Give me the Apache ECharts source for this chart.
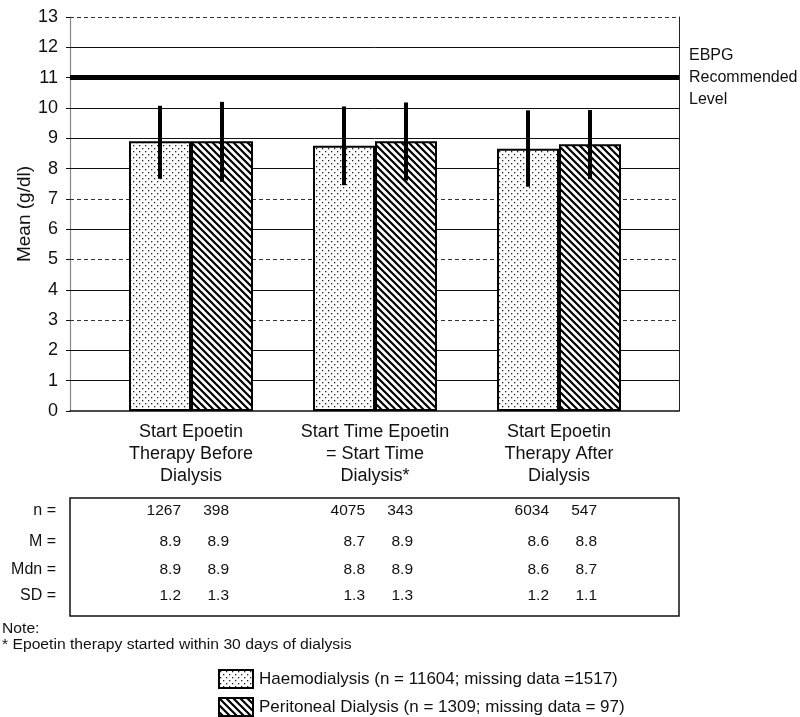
<!DOCTYPE html>
<html>
<head>
<meta charset="utf-8">
<script src="https://cdn.jsdelivr.net/npm/echarts@6/dist/echarts.min.js"></script>
<style>html,body{margin:0;padding:0;background:#fff;}#c{width:800px;height:717px;}</style>
</head>
<body>
<div id="c"></div>
<script>
// ---- data ----
const categories = ['Start Epoetin\nTherapy Before\nDialysis', 'Start Time Epoetin\n= Start Time\nDialysis*', 'Start Epoetin\nTherapy After\nDialysis'];
const hdName = 'Haemodialysis (n = 11604; missing data =1517)';
const pdName = 'Peritoneal Dialysis (n = 1309; missing data = 97)';
const hdMean = [8.9, 8.75, 8.65];
const pdMean = [8.9, 8.9, 8.8];
const hdLow = [7.66, 7.45, 7.4];
const hdHigh = [10.07, 10.05, 9.92];
const pdLow = [7.56, 7.6, 7.65];
const pdHigh = [10.2, 10.18, 9.93];
const yTicksMin = 0, yTicksMax = 13, yTickStep = 1;
const solidGrid = [1, 2, 4, 6, 8, 9, 10, 12];
const dashedGrid = [3, 5, 7, 13];
const recommendedLevel = 11;
const recommendedLabel = 'EBPG\nRecommended\nLevel';
const rowLabels = ['n =', 'M =', 'Mdn =', 'SD ='];
const nHD = ['1267', '4075', '6034'];
const nPD = ['398', '343', '547'];
const mHD = ['8.9', '8.7', '8.6'];
const mPD = ['8.9', '8.9', '8.8'];
const mdnHD = ['8.9', '8.8', '8.6'];
const mdnPD = ['8.9', '8.9', '8.7'];
const sdHD = ['1.2', '1.3', '1.2'];
const sdPD = ['1.3', '1.3', '1.1'];
const noteLines = ['Note:', '* Epoetin therapy started within 30 days of dialysis'];

// ---- styles ----
const FONT = '"Liberation Sans", Arial, Helvetica, sans-serif';
const TXT = '#111';
const BAR_W = 62;

function dotPattern() {
  const c = document.createElement('canvas');
  c.width = 6; c.height = 6;
  const g = c.getContext('2d');
  g.fillStyle = '#fff'; g.fillRect(0, 0, 6, 6);
  g.fillStyle = '#222';
  g.fillRect(1, 1, 1.3, 1.3);
  g.fillRect(4, 4, 1.3, 1.3);
  return c;
}
function hatchPattern() {
  const s = 7;
  const c = document.createElement('canvas');
  c.width = s; c.height = s;
  const g = c.getContext('2d');
  g.fillStyle = '#fff'; g.fillRect(0, 0, s, s);
  g.strokeStyle = '#000'; g.lineWidth = 2.2;
  g.beginPath();
  for (let k = -1; k <= 1; k++) {
    g.moveTo(k * s - 1, -1); g.lineTo(k * s + s + 1, s + 1);
  }
  g.stroke();
  return c;
}
const hdFill = { image: dotPattern(), repeat: 'repeat' };
const pdFill = { image: hatchPattern(), repeat: 'repeat' };

const chart = echarts.init(document.getElementById('c'), null, { renderer: 'canvas' });

function errRender(off) {
  return function (params, api) {
    const x = api.coord([api.value(0), 0])[0] + off;
    const top = api.coord([api.value(0), api.value(2)])[1];
    const bot = api.coord([api.value(0), api.value(1)])[1];
    return { type: 'line', shape: { x1: x, y1: top, x2: x, y2: bot }, style: { stroke: '#000', lineWidth: 4 } };
  };
}

const gridMarks = [];
solidGrid.forEach(v => gridMarks.push({ yAxis: v, lineStyle: { type: 'solid', color: '#111', width: 1 } }));
dashedGrid.forEach(v => gridMarks.push({ yAxis: v, lineStyle: { type: [4, 3], color: '#333', width: 1 } }));
gridMarks.push({
  yAxis: recommendedLevel,
  lineStyle: { type: 'solid', color: '#000', width: 5 },
  label: {
    show: true, position: 'end', distance: 10, formatter: recommendedLabel,
    fontFamily: FONT, fontSize: 16, color: TXT, lineHeight: 22, align: 'left'
  }
});

const option = {
  animation: false,
  backgroundColor: '#fff',
  textStyle: { fontFamily: FONT },
  grid: [
    { left: 70, right: 121, top: 17, bottom: 306 },
    { left: 99, right: 149, top: 17, bottom: 306 }
  ],
  xAxis: [
    { type: 'value', gridIndex: 0, min: 0, max: 1, axisLine: { show: true, lineStyle: { color: '#111', width: 1.5 } }, axisTick: { show: false }, axisLabel: { show: false }, splitLine: { show: false } },
    { type: 'category', gridIndex: 1, data: categories, axisLine: { show: false }, axisTick: { show: false },
      axisLabel: { margin: 10, fontFamily: FONT, fontSize: 18, color: TXT, lineHeight: 22, interval: 0 } }
  ],
  yAxis: [
    { type: 'value', gridIndex: 0, min: yTicksMin, max: yTicksMax, interval: yTickStep,
      name: 'Mean (g/dl)', nameLocation: 'middle', nameGap: 36, nameRotate: 90, nameMoveOverlap: false,
      nameTextStyle: { fontFamily: FONT, fontSize: 19, color: TXT },
      axisLine: { show: true, lineStyle: { color: '#888', width: 1.2 } },
      axisTick: { show: true, length: 4, lineStyle: { color: '#111' } },
      axisLabel: { margin: 12, fontFamily: FONT, fontSize: 18, color: TXT },
      splitLine: { show: false } },
    { type: 'value', gridIndex: 0, position: 'right', min: yTicksMin, max: yTicksMax, interval: yTickStep,
      axisLine: { show: true, lineStyle: { color: '#222', width: 1 } }, axisTick: { show: false }, axisLabel: { show: false }, splitLine: { show: false } },
    { type: 'value', gridIndex: 1, min: yTicksMin, max: yTicksMax, interval: yTickStep, show: false, splitLine: { show: false } }
  ],
  legend: {
    orient: 'vertical', left: 218, top: 669, itemWidth: 34, itemHeight: 18, itemGap: 8, padding: 0,
    icon: 'rect',
    data: [hdName, pdName],
    textStyle: { fontFamily: FONT, fontSize: 17, color: TXT, padding: [0, 0, 0, 1] },
    selectedMode: false
  },
  series: [
    { type: 'line', xAxisIndex: 0, yAxisIndex: 0, data: [[0, 0]], showSymbol: false, lineStyle: { opacity: 0 }, silent: true, z: 1,
      markLine: { z: 1, silent: true, symbol: ['none', 'none'], label: { show: false }, data: gridMarks, animation: false } },
    { name: hdName, type: 'bar', xAxisIndex: 1, yAxisIndex: 2, data: hdMean, barWidth: BAR_W, barGap: '0%', z: 3,
      itemStyle: { color: hdFill, borderColor: '#000', borderWidth: 2 } },
    { name: pdName, type: 'bar', xAxisIndex: 1, yAxisIndex: 2, data: pdMean, barWidth: BAR_W, barGap: '0%', z: 3,
      itemStyle: { color: pdFill, borderColor: '#000', borderWidth: 2 } },
    { type: 'custom', xAxisIndex: 1, yAxisIndex: 2, z: 5, silent: true, renderItem: errRender(-BAR_W / 2),
      data: categories.map((c, i) => [i, hdLow[i], hdHigh[i]]) },
    { type: 'custom', xAxisIndex: 1, yAxisIndex: 2, z: 5, silent: true, renderItem: errRender(BAR_W / 2),
      data: categories.map((c, i) => [i, pdLow[i], pdHigh[i]]) }
  ]
};
chart.setOption(option);

// ---- table below the chart, columns placed from the category axis ----
const rowsHD = [nHD, mHD, mdnHD, sdHD];
const rowsPD = [nPD, mPD, mdnPD, sdPD];
const rowY = [511, 542, 570, 596];
const g = [];
g.push({ type: 'rect', shape: { x: 70, y: 498, width: 609, height: 118 }, style: { fill: 'none', stroke: '#111', lineWidth: 1.5 }, silent: true });
rowLabels.forEach((t, r) => {
  g.push({ type: 'text', x: 56, y: rowY[r], style: { text: t, font: '16px ' + FONT, fill: TXT, textAlign: 'right', textVerticalAlign: 'middle' } });
});
categories.forEach((c, i) => {
  const cx = chart.convertToPixel({ xAxisIndex: 1 }, i);
  rowLabels.forEach((t, r) => {
    g.push({ type: 'text', x: cx - 10, y: rowY[r], style: { text: rowsHD[r][i], font: '15.5px ' + FONT, fill: TXT, textAlign: 'right', textVerticalAlign: 'middle' } });
    g.push({ type: 'text', x: cx + 38, y: rowY[r], style: { text: rowsPD[r][i], font: '15.5px ' + FONT, fill: TXT, textAlign: 'right', textVerticalAlign: 'middle' } });
  });
});
g.push({ type: 'text', x: 2, y: 629, scaleX: 1.12, style: { text: noteLines[0], font: '14px ' + FONT, fill: TXT, textVerticalAlign: 'middle' } });
g.push({ type: 'text', x: 2, y: 645, scaleX: 1.12, style: { text: noteLines[1], font: '14px ' + FONT, fill: TXT, textVerticalAlign: 'middle' } });
chart.setOption({ graphic: g });
</script>
</body>
</html>
